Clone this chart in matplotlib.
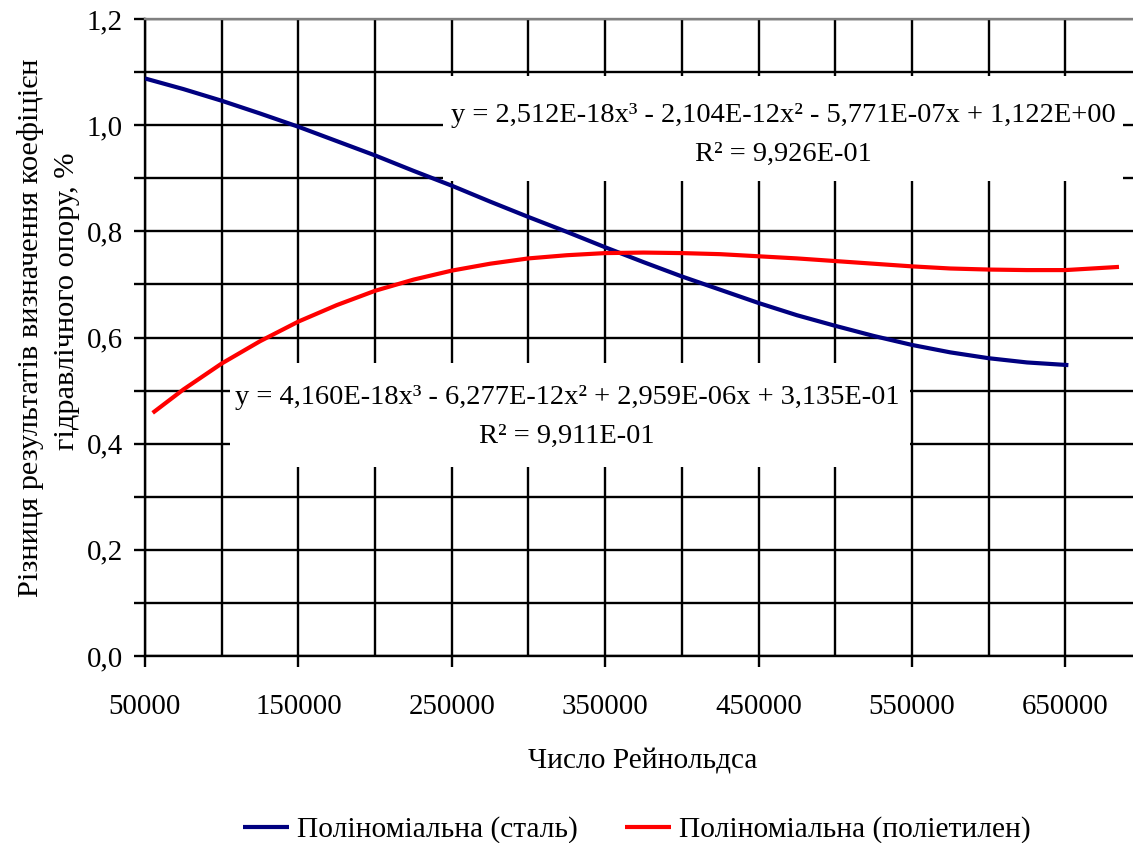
import matplotlib
matplotlib.use("Agg")
import matplotlib.pyplot as plt
from matplotlib.patches import Rectangle
from matplotlib.ticker import MultipleLocator, FixedLocator

# ---- data ----
x_steel = [50000, 75000, 100000, 125000, 150000, 175000, 200000, 225000, 250000,
           275000, 300000, 325000, 350000, 375000, 400000, 425000, 450000, 475000,
           500000, 525000, 550000, 575000, 600000, 625000, 652000]
y_steel = [1.088, 1.068, 1.046, 1.022, 0.997, 0.970, 0.943, 0.914, 0.886,
           0.856, 0.827, 0.799, 0.770, 0.742, 0.715, 0.690, 0.665, 0.642,
           0.622, 0.603, 0.586, 0.572, 0.561, 0.553, 0.548]

x_pe = [55000, 75000, 100000, 125000, 150000, 175000, 200000, 225000, 250000,
        275000, 300000, 325000, 350000, 375000, 400000, 425000, 450000, 475000,
        500000, 525000, 550000, 575000, 600000, 625000, 650000, 685000]
y_pe = [0.458, 0.502, 0.551, 0.593, 0.630, 0.661, 0.688, 0.709, 0.726,
        0.739, 0.749, 0.755, 0.759, 0.760, 0.759, 0.757, 0.753, 0.749,
        0.744, 0.739, 0.734, 0.730, 0.728, 0.727, 0.727, 0.733]

x_major_ticks = [50000, 150000, 250000, 350000, 450000, 550000, 650000]
x_minor_ticks = [100000, 200000, 300000, 400000, 500000, 600000, 700000]
y_major_ticks = [0.0, 0.2, 0.4, 0.6, 0.8, 1.0, 1.2]

label_steel = "Поліноміальна (сталь)"
label_pe = "Поліноміальна (поліетилен)"
eq_steel = "y = 2,512E-18x³ - 2,104E-12x² - 5,771E-07x + 1,122E+00\nR² = 9,926E-01"
eq_pe = "y = 4,160E-18x³ - 6,277E-12x² + 2,959E-06x + 3,135E-01\nR² = 9,911E-01"
xlabel = "Число Рейнольдса"
ylabel1 = "Різниця результатів визначення коефіцієн"
ylabel2 = "гідравлічного опору, %"

# ---- figure ----
W, H = 1133, 843
plt.rcParams['font.family'] = ['Liberation Serif', 'DejaVu Serif']
FS_TICK = 20.8
FS_EQ = 20.5
FS_LAB = 21.2
FS_YLAB = 21.9
fig = plt.figure(figsize=(W / 100, H / 100), dpi=100)
L, R, B, T = 145, 1142, 656, 19
ax = fig.add_axes([L / W, 1 - B / H, (R - L) / W, (B - T) / H])
ax.set_xlim(50000, 700000)
ax.set_ylim(0, 1.2)

ax.xaxis.set_major_locator(FixedLocator(x_major_ticks))
ax.xaxis.set_minor_locator(FixedLocator(x_minor_ticks))
ax.set_xticklabels([str(v) for v in x_major_ticks])
ax.yaxis.set_major_locator(FixedLocator(y_major_ticks))
ax.yaxis.set_minor_locator(MultipleLocator(0.1))
ax.set_yticklabels([f"{v:.1f}".replace('.', ',') for v in y_major_ticks])

ax.set_axisbelow(True)
ax.grid(True, which='both', color='black', linewidth=1.7)
ax.tick_params(axis='x', which='major', length=8, width=1.7, direction='out',
               labelsize=FS_TICK, pad=19)
ax.tick_params(axis='x', which='minor', length=0)
ax.tick_params(axis='y', which='both', length=8, width=1.7, direction='out',
               labelsize=FS_TICK, pad=8)
for s in ['left', 'bottom']:
    ax.spines[s].set_color('black')
    ax.spines[s].set_linewidth(1.7)
ax.spines['top'].set_color('#808080')
ax.spines['top'].set_linewidth(1.7)
ax.spines['right'].set_visible(False)

# white label boxes (hide grid behind trendline equations)
def px_box(x0, y0, x1, y1):
    return Rectangle(((x0 - L) / (R - L), (B - y1) / (B - T)),
                     (x1 - x0) / (R - L), (y1 - y0) / (B - T),
                     transform=ax.transAxes, facecolor='white',
                     edgecolor='none', zorder=2)

ax.add_patch(px_box(443, 76, 1123, 181))
ax.add_patch(px_box(230, 363, 910, 467))

ax.plot(x_steel, y_steel, color='#000080', linewidth=3.0, zorder=3,
        label=label_steel, solid_capstyle='butt')
ax.plot(x_pe, y_pe, color='#FF0000', linewidth=3.0, zorder=3,
        label=label_pe, solid_capstyle='butt')

ax.text((783 - L) / (R - L), (B - 135) / (B - T), eq_steel, transform=ax.transAxes,
        ha='center', va='center', multialignment='center', fontsize=FS_EQ,
        linespacing=1.7, zorder=4)
ax.text((567 - L) / (R - L), (B - 417) / (B - T), eq_pe, transform=ax.transAxes,
        ha='center', va='center', multialignment='center', fontsize=FS_EQ,
        linespacing=1.75, zorder=4)

fig.text(643 / W, 1 - 762 / H, xlabel, ha='center', va='center', fontsize=FS_LAB)
fig.text(31 / W, 1 - 328 / H, ylabel1, ha='center', va='center', rotation=90,
         fontsize=FS_YLAB)
fig.text(67 / W, 1 - 301 / H, ylabel2, ha='center', va='center', rotation=90,
         fontsize=FS_YLAB)

handles, labels = ax.get_legend_handles_labels()
fig.legend(handles, labels, loc='center', bbox_to_anchor=(637 / W, 1 - 830 / H),
           ncol=2, frameon=False, fontsize=FS_LAB, handlelength=1.55,
           handletextpad=0.28, columnspacing=1.6, borderpad=0)

fig.savefig("out.png", dpi=100)
